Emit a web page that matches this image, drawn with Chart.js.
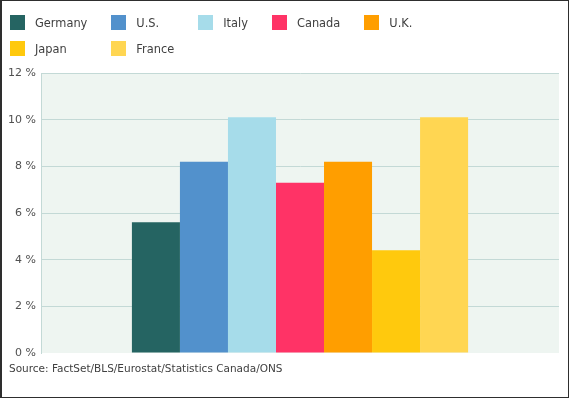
<!DOCTYPE html>
<html>
<head>
<meta charset="utf-8">
<script src="https://cdn.jsdelivr.net/npm/chart.js@4.4.1/dist/chart.umd.min.js"></script>
<style>
  html, body { margin: 0; padding: 0; background: #fff; }
  #wrap { position: relative; width: 569px; height: 398px; font-family: "DejaVu Sans", Verdana, sans-serif; }
  #chart { position: absolute; left: 0; top: 0; }
  #frame { position: absolute; left: 0; top: 0; width: 569px; height: 398px; box-sizing: border-box;
           border: 1px solid #2e2e2e; border-left-width: 2px; pointer-events: none; }
  #legend { position: absolute; left: 10px; top: 15px; display: grid;
            grid-template-columns: repeat(5, auto); column-gap: 24px; row-gap: 11px; justify-content: start; }
  .item { display: flex; align-items: center; height: 15px; font-size: 11.4px; color: #404040; white-space: nowrap; }
  .box { width: 15px; height: 15px; margin-right: 10px; flex: none; }
  #source { position: absolute; left: 9px; top: 362px; font-size: 10.5px; color: #404040; }
</style>
</head>
<body>
<div id="wrap">
  <canvas id="chart" width="569" height="398"></canvas>
  <div id="legend"></div>
  <div id="source">Source: FactSet/BLS/Eurostat/Statistics Canada/ONS</div>
  <div id="frame"></div>
</div>
<script>
var countries = ["Germany", "U.S.", "Italy", "Canada", "U.K.", "Japan", "France"];
var rates = [5.6, 8.2, 10.1, 7.3, 8.2, 4.4, 10.1];
var yTicks = [0, 2, 4, 6, 8, 10, 12];

var barColors = ["#256462", "#5291cc", "#a6dcea", "#ff3366", "#ff9e00", "#ffc90d", "#ffd652"];

var datasets = countries.map(function (name, i) {
  return {
    label: name,
    data: [rates[i]],
    backgroundColor: barColors[i],
    borderWidth: 0,
    categoryPercentage: 0.649,
    barPercentage: 1
  };
});

// legend as a small table, like the original
var legendEl = document.getElementById("legend");
countries.forEach(function (name, i) {
  var item = document.createElement("div");
  item.className = "item";
  var box = document.createElement("span");
  box.className = "box";
  box.style.background = barColors[i];
  item.appendChild(box);
  item.appendChild(document.createTextNode(name));
  legendEl.appendChild(item);
});

var plotBackground = {
  id: "plotBackground",
  beforeDraw: function (chart) {
    var a = chart.chartArea, ctx = chart.ctx;
    ctx.save();
    ctx.fillStyle = "#eef5f1";
    ctx.fillRect(a.left, a.top, a.right - a.left, a.bottom - a.top);
    ctx.restore();
  }
};

var ctx = document.getElementById("chart").getContext("2d");
var myChart = new Chart(ctx, {
  type: "bar",
  data: { labels: [""], datasets: datasets },
  plugins: [plotBackground],
  options: {
    responsive: false,
    animation: false,
    layout: { padding: { top: 73, right: 10, bottom: 45, left: 0 } },
    plugins: {
      legend: { display: false },
      tooltip: { enabled: false }
    },
    scales: {
      x: { display: false },
      y: {
        min: yTicks[0],
        max: yTicks[yTicks.length - 1],
        afterFit: function (scale) { scale.width = 41; },
        afterBuildTicks: function (scale) {
          scale.ticks = yTicks.map(function (v) { return { value: v }; });
        },
        ticks: {
          padding: 5,
          color: "#505050",
          font: { family: "'DejaVu Sans', Verdana, sans-serif", size: 11 },
          callback: function (v) { return v + " %"; }
        },
        grid: {
          drawTicks: false,
          lineWidth: 1,
          color: function (c) { return c.tick && c.tick.value === 0 ? "rgba(0,0,0,0)" : "#c3d9d6"; }
        },
        border: { display: true, color: "#c3d9d6", width: 1 }
      }
    }
  }
});
</script>
</body>
</html>
